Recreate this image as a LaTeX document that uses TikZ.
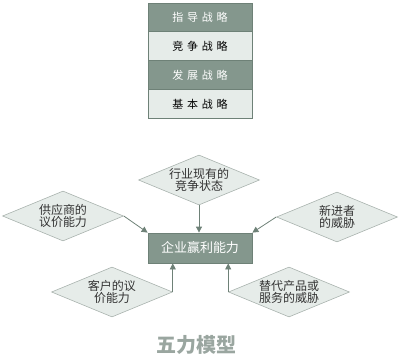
\documentclass[tikz,border=0pt]{standalone}
\usepackage{fontspec}
\setmainfont{Noto Sans CJK SC}
\usetikzlibrary{shapes.geometric,arrows.meta}
\definecolor{darkg}{HTML}{84978D}
\definecolor{lightg}{HTML}{E6ECE9}
\definecolor{edgeg}{HTML}{6E8177}
\definecolor{dborder}{HTML}{A9B3AE}
\definecolor{titleg}{HTML}{9AA6A0}
\newcommand{\gap}{\hspace{3.8pt}}
\tikzset{
  x=1pt,y=-1pt,
  rowdark/.style={draw=edgeg,fill=darkg,text=white,minimum width=104pt,minimum height=28.8pt,inner sep=0pt,font=\fontsize{11}{13}\selectfont,line width=0.8pt},
  rowlight/.style={draw=edgeg,fill=lightg,text=black,minimum width=104pt,minimum height=28.8pt,inner sep=0pt,font=\fontsize{11}{13}\selectfont,line width=0.8pt},
  force/.style={diamond,draw=dborder,fill=lightg,minimum width=121pt,minimum height=50pt,inner sep=0pt,aspect=2.4,align=center,text=black!80,font=\fontsize{12}{12.5}\selectfont,line width=0.6pt},
  core/.style={draw=edgeg,fill=darkg,text=white,minimum width=104pt,minimum height=30pt,inner sep=0pt,font=\fontsize{13}{15}\selectfont,line width=0.8pt},
  conn/.style={draw=edgeg,line width=0.8pt,-{Triangle[length=6pt,width=6pt]}},
}
\begin{document}
\begin{tikzpicture}
\useasboundingbox (0,0) rectangle (400,360);
\node[rowdark]  (r1) at (200,17.4) {指\gap 导\gap 战\gap 略};
\node[rowlight] (r2) at (200,46.2) {竞\gap 争\gap 战\gap 略};
\node[rowdark]  (r3) at (200,75) {发\gap 展\gap 战\gap 略};
\node[rowlight] (r4) at (200,103.8) {基\gap 本\gap 战\gap 略};
\node[core] (c) at (200,248) {企业赢利能力};
\node[force] (t) at (199,180) {行业现有的\\竞争状态};
\node[force] (l) at (63,216) {供应商的\\议价能力};
\node[force] (r) at (337,217) {新进者\\的威胁};
\node[force] (bl) at (112,292) {客户的议\\价能力};
\node[force] (br) at (289,292) {替代产品或\\服务的威胁};
\draw[conn] (t.south) -- (c.north -| t.south);
\draw[conn] (l.east) -- (c.north west);
\draw[conn] (r.west) -- (c.north east);
\draw[conn] (bl.east) -- (bl.east |- c.south);
\draw[conn] (br.west) -- (br.west |- c.south);
\node[text=titleg,font=\fontsize{20}{22}\selectfont\bfseries] (title) at (197,345) {五力模型};
\end{tikzpicture}
\end{document}
